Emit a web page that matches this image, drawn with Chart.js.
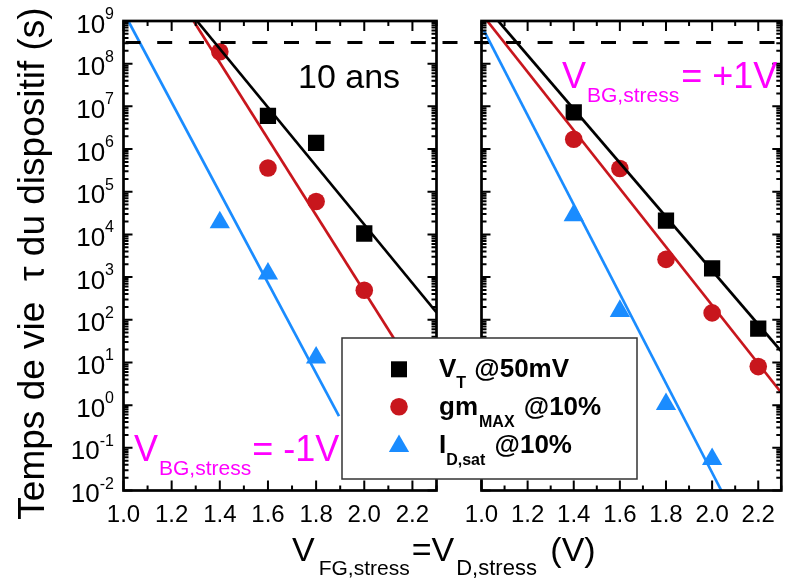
<!DOCTYPE html>
<html>
<head>
<meta charset="utf-8">
<script src="https://cdn.jsdelivr.net/npm/chart.js@4/dist/chart.umd.min.js"></script>
<style>
  body { margin: 0; background: #fff; }
  #wrap { position: relative; width: 793px; height: 583px; }
  canvas { position: absolute; left: 0; top: 0; }
</style>
</head>
<body>
<div id="wrap">
  <canvas id="left" width="793" height="583"></canvas>
  <canvas id="right" width="793" height="583"></canvas>
</div>
<script>
const FONT = '"Liberation Sans", Arial, sans-serif';
const BLACK = "#000000", RED = "#c8161d", BLUE = "#1a8cff", MAGENTA = "#ff00ff";

// ---- data: lifetime (s) vs stress voltage (V) ----
const yExponents = [-2, -1, 0, 1, 2, 3, 4, 5, 6, 7, 8, 9];
const tenYears = 3.15e8;

// V_BG,stress = -1V (left panel)
const vtLeftV = [1.6, 1.8, 2.0];
const vtLeft = [6.0e6, 1.4e6, 1.05e4];
const gmLeftV = [1.4, 1.6, 1.8, 2.0];
const gmLeft = [1.9e8, 3.6e5, 5.9e4, 490];
const idLeftV = [1.4, 1.6, 1.8];
const idLeft = [1.9e4, 1.2e3, 13];
// fitted lines (two ends each)
const vtFitLeftV = [1.305, 2.3], vtFitLeft = [1e9, 148];
const gmFitLeftV = [1.291, 2.2], gmFitLeft = [1e9, 7.5];
const idFitLeftV = [1.02, 1.895], idFitLeft = [1e9, 0.55];

// V_BG,stress = +1V (right panel)
const vtRightV = [1.4, 1.8, 2.0, 2.2];
const vtRight = [7.2e6, 2.1e4, 1.6e3, 62];
const gmRightV = [1.4, 1.6, 1.8, 2.0, 2.2];
const gmRight = [1.7e6, 3.5e5, 2.6e3, 145, 8];
const idRightV = [1.4, 1.6, 1.8, 2.0];
const idRight = [2.8e4, 160, 1.05, 0.054];
const vtFitRightV = [1.073, 2.3], vtFitRight = [1e9, 18.2];
const gmFitRightV = [1.025, 2.3], gmFitRight = [1e9, 1.95];
const idFitRightV = [1.01, 2.04], idFitRight = [6e8, 0.01];

const pts = (xs, ys) => xs.map((x, i) => ({ x, y: ys[i] }));

// draws [text, size, dy, gapBefore] pieces one after another
function rich(ctx, x, y, parts, color, weight = "") {
  ctx.save();
  ctx.fillStyle = color;
  ctx.textAlign = "left";
  ctx.textBaseline = "alphabetic";
  for (const [t, size, dy, gap = 0] of parts) {
    x += gap;
    ctx.font = `${weight} ${size}px ${FONT}`;
    ctx.fillText(t, x, y + dy);
    x += ctx.measureText(t).width;
  }
  ctx.restore();
}

// frame with inward major/minor ticks on all four sides
function drawFrame(chart) {
  const { ctx, chartArea: a, scales: { x, y } } = chart;
  ctx.save();
  ctx.strokeStyle = BLACK;
  ctx.lineWidth = 2;
  for (let i = 10; i <= 23; i++) {
    const px = x.getPixelForValue(i / 10);
    const len = i % 2 === 0 ? 10 : 5;
    ctx.beginPath();
    ctx.moveTo(px, a.bottom); ctx.lineTo(px, a.bottom - len);
    ctx.moveTo(px, a.top); ctx.lineTo(px, a.top + len);
    ctx.stroke();
  }
  for (const e of yExponents) {
    for (let m = 1; m <= 9; m++) {
      const v = m * Math.pow(10, e);
      if (v > 1e9) break;
      const py = y.getPixelForValue(v);
      const len = m === 1 ? 9 : 5;
      ctx.beginPath();
      ctx.moveTo(a.left, py); ctx.lineTo(a.left + len, py);
      ctx.moveTo(a.right, py); ctx.lineTo(a.right - len, py);
      ctx.stroke();
    }
  }
  ctx.lineWidth = 2.7;
  ctx.strokeRect(a.left, a.top, a.right - a.left, a.bottom - a.top);
  ctx.restore();
}

function datasets(fits, marks) {
  const out = [];
  for (const [xs, ys, c] of fits) {
    out.push({ data: pts(xs, ys), showLine: true, borderColor: c, borderWidth: 2.7,
               pointRadius: 0, fill: false });
  }
  for (const [xs, ys, c, style, r] of marks) {
    out.push({ data: pts(xs, ys), showLine: false, pointStyle: style, pointRadius: r,
               pointBackgroundColor: c, pointBorderWidth: 0, pointBorderColor: c });
  }
  return out;
}

function scalesFor(areaLeft) {
  return {
    x: {
      type: "linear", min: 1.0, max: 2.3,
      grid: { display: false, drawTicks: false }, border: { display: false },
      ticks: { stepSize: 0.2, includeBounds: false, padding: 10, color: BLACK, maxRotation: 0,
               font: { family: FONT, size: 24 }, callback: (v) => v.toFixed(1) },
      afterFit: (s) => { s.height = 583 - 490.5; },
    },
    y: {
      type: "logarithmic", min: 1e-2, max: 1e9,
      grid: { display: false, drawTicks: false }, border: { display: false },
      ticks: { display: false },
      afterFit: (s) => { s.width = areaLeft; },
    },
  };
}

const baseOpts = (areaLeft, areaRight) => ({
  responsive: false, animation: false, devicePixelRatio: 1,
  layout: { padding: { top: 21, left: 0, bottom: 0, right: 793 - areaRight } },
  plugins: { legend: { display: false }, tooltip: { enabled: false } },
  scales: scalesFor(areaLeft),
});

// ---- left panel ----
new Chart(document.getElementById("left"), {
  type: "scatter",
  data: {
    datasets: datasets(
      [[vtFitLeftV, vtFitLeft, BLACK], [gmFitLeftV, gmFitLeft, RED], [idFitLeftV, idFitLeft, BLUE]],
      [[vtLeftV, vtLeft, BLACK, "rect", 11.5], [gmLeftV, gmLeft, RED, "circle", 8.8],
       [idLeftV, idLeft, BLUE, "triangle", 11.7]]),
  },
  options: baseOpts(123.5, 436.5),
  plugins: [{
    id: "leftDecor",
    afterDatasetsDraw(chart) {
      const { ctx, chartArea: a, scales: { y } } = chart;
      // 10 years line across both panels
      const py = y.getPixelForValue(tenYears);
      ctx.save();
      ctx.strokeStyle = BLACK; ctx.lineWidth = 3; ctx.setLineDash([15, 16.7]);
      ctx.lineDashOffset = -2;
      ctx.beginPath(); ctx.moveTo(a.left, py); ctx.lineTo(790, py); ctx.stroke();
      ctx.restore();
    },
    afterDraw(chart) {
      const { ctx, scales: { y } } = chart;
      drawFrame(chart);
      // y tick labels 10^n
      ctx.save();
      ctx.fillStyle = BLACK;
      ctx.textAlign = "right";
      ctx.textBaseline = "alphabetic";
      for (const e of yExponents) {
        const py = y.getPixelForValue(Math.pow(10, e));
        const exp = String(e);
        ctx.font = `16px ${FONT}`;
        const w = ctx.measureText(exp).width;
        ctx.fillText(exp, 114, py - 2);
        ctx.font = `26px ${FONT}`;
        ctx.fillText("10", 114 - w, py + 11.5);
      }
      ctx.restore();
      // y title
      ctx.save();
      ctx.translate(43.5, 263.5);
      ctx.rotate(-Math.PI / 2);
      ctx.fillStyle = BLACK;
      ctx.font = `37px ${FONT}`;
      ctx.textAlign = "center";
      ctx.textBaseline = "alphabetic";
      ctx.fillText("Temps de vie  \u03c4 du dispositif (s)", 0, 0);
      ctx.restore();
      rich(ctx, 298, 88, [["10 ans", 34, 0]], BLACK);
      rich(ctx, 134, 461, [["V", 36, 0], ["BG,stress", 21, 14, 1], ["= -1V", 36, 0, 1]], MAGENTA);
    },
  }],
});

// ---- right panel ----
new Chart(document.getElementById("right"), {
  type: "scatter",
  data: {
    datasets: datasets(
      [[vtFitRightV, vtFitRight, BLACK], [gmFitRightV, gmFitRight, RED], [idFitRightV, idFitRight, BLUE]],
      [[vtRightV, vtRight, BLACK, "rect", 11.5], [gmRightV, gmRight, RED, "circle", 8.8],
       [idRightV, idRight, BLUE, "triangle", 11.7]]),
  },
  options: baseOpts(481.5, 791.5),
  plugins: [{
    id: "rightDecor",
    afterDraw(chart) {
      const { ctx } = chart;
      drawFrame(chart);
      rich(ctx, 562, 88, [["V", 36, 0], ["BG,stress", 21, 14, 1], ["= +1V", 36, 0, 2]], MAGENTA);
      // x title
      rich(ctx, 292, 561, [["V", 34, 0], ["FG,stress", 21, 14, 4], ["=V", 34, 0, 2],
                            ["D,stress", 22, 14, 2], [" (V)", 34, 0, 4]], BLACK);
      // legend box
      ctx.save();
      ctx.fillStyle = "#ffffff";
      ctx.fillRect(342, 338, 295, 141);
      ctx.strokeStyle = "#333333"; ctx.lineWidth = 1.5;
      ctx.strokeRect(342, 338, 295, 141);
      ctx.fillStyle = BLACK;
      ctx.fillRect(391, 361.3, 16, 16);
      ctx.fillStyle = RED;
      ctx.beginPath(); ctx.arc(399, 406.7, 8.8, 0, Math.PI * 2); ctx.fill();
      ctx.fillStyle = BLUE;
      const r = 11.7, cy = 446.2;
      ctx.beginPath();
      ctx.moveTo(399, cy - r);
      ctx.lineTo(399 + r * Math.sin(Math.PI * 2 / 3), cy + r / 2);
      ctx.lineTo(399 - r * Math.sin(Math.PI * 2 / 3), cy + r / 2);
      ctx.closePath(); ctx.fill();
      ctx.restore();
      rich(ctx, 439, 376.7, [["V", 26, 0], ["T", 16, 11.3], [" @50mV", 26, 0, 1]], BLACK, "bold");
      rich(ctx, 439, 415, [["gm", 26, 0], ["MAX", 16, 11.7, 1], [" @10%", 26, 0, 2]], BLACK, "bold");
      rich(ctx, 439, 453.3, [["I", 26, 0], ["D,sat", 16, 11.7], [" @10%", 26, 0, 2]], BLACK, "bold");
    },
  }],
});
</script>
</body>
</html>
